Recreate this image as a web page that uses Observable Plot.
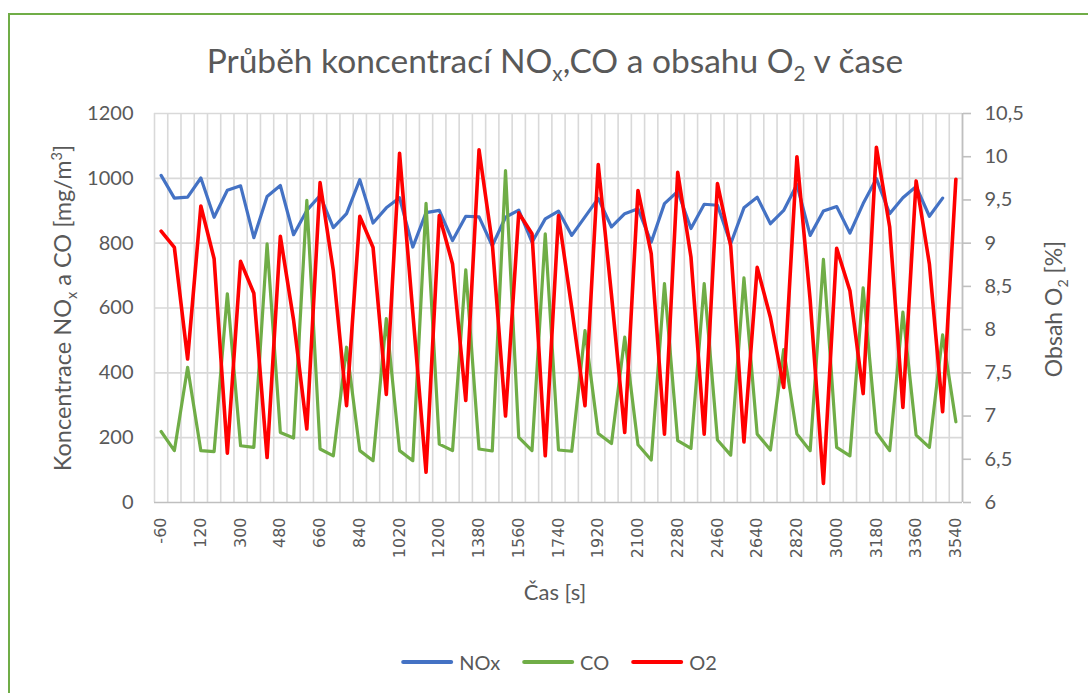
<!DOCTYPE html>
<html>
<head>
<meta charset="utf-8">
<script src="https://cdn.jsdelivr.net/npm/d3@7"></script>
<script src="https://cdn.jsdelivr.net/npm/@observablehq/plot@0.6"></script>
<style>
  html, body { margin: 0; padding: 0; background: #fff; }
  body { width: 1088px; height: 693px; position: relative; overflow: hidden; font-family: Lato, "Open Sans", sans-serif; color: #595959; }
  .frame { position: absolute; left: 8px; top: 13px; width: 1200px; height: 800px; border: 2px solid #70AD47; box-sizing: border-box; }
  #chart { position: absolute; left: 0; top: 0; }
  .title { position: absolute; left: 555px; top: 60px; transform: translate(-50%, -50%); font-size: 33.5px; white-space: nowrap; }
  .ytitle { position: absolute; left: 62px; top: 308px; transform: translate(-50%, -50%) rotate(-90deg); font-size: 23.5px; white-space: nowrap; }
  .y2title { position: absolute; left: 1053px; top: 309px; transform: translate(-50%, -50%) rotate(-90deg); font-size: 23px; white-space: nowrap; }
  .xtitle { position: absolute; left: 555px; top: 591px; transform: translate(-50%, -50%); font-size: 22px; white-space: nowrap; }
  sub, sup { font-size: 0.62em; line-height: 0; }
  .legend { position: absolute; left: 559px; top: 662px; transform: translate(-50%, -50%); display: flex; align-items: center; gap: 22px; font-size: 20px; white-space: nowrap; }
  .legend .item { display: flex; align-items: center; gap: 6px; }
  .legend .sw { width: 52px; height: 4px; border-radius: 2px; }
</style>
</head>
<body>
<div class="frame"></div>
<div id="chart"></div>
<div class="title">Průběh koncentrací NO<sub>x</sub>,CO a obsahu O<sub>2</sub> v čase</div>
<div class="ytitle">Koncentrace NO<sub>x</sub> a CO [mg/m<sup>3</sup>]</div>
<div class="y2title">Obsah O<sub>2</sub> [%]</div>
<div class="xtitle">Čas [s]</div>
<div class="legend">
  <div class="item"><div class="sw" style="background:#4472C4"></div>NOx</div>
  <div class="item"><div class="sw" style="background:#70AD47"></div>CO</div>
  <div class="item"><div class="sw" style="background:#FF0000"></div>O2</div>
</div>
<script>
// Categories: time [s]
const times = [-60,0,60,120,180,240,300,360,420,480,540,600,660,720,780,840,900,960,1020,1080,
  1140,1200,1260,1320,1380,1440,1500,1560,1620,1680,1740,1800,1860,1920,1980,2040,2100,2160,2220,2280,
  2340,2400,2460,2520,2580,2640,2700,2760,2820,2880,2940,3000,3060,3120,3180,3240,3300,3360,3420,3480,3540];

// NOx [mg/m3] (no value at 3540)
const nox = [1009,939,942,1001,880,963,977,817,944,978,826,901,947,848,891,996,862,909,940,788,
  894,901,808,883,881,792,880,902,803,875,899,824,881,938,850,891,906,803,922,960,
  845,920,917,798,909,942,860,901,981,824,899,913,831,922,999,891,940,975,883,939];

// CO [mg/m3]
const co = [219,160,417,160,157,644,175,170,798,216,199,932,165,144,479,160,129,567,160,129,
  923,180,160,718,165,159,1024,201,160,829,162,158,530,213,182,510,178,131,675,191,
  167,675,193,146,693,211,162,472,211,160,750,170,144,662,216,160,587,208,170,517,249];

// O2 [%]
const o2 = [9.14,8.95,7.66,9.43,8.82,6.57,8.79,8.42,6.52,9.08,8.11,6.85,9.70,8.68,7.12,9.31,8.95,7.25,10.04,8.2,
  6.35,9.32,8.76,7.18,10.08,9.0,7.0,9.35,9.11,6.54,9.32,8.25,7.12,9.91,8.4,6.81,9.61,8.88,6.79,9.82,
  8.84,6.79,9.69,8.97,6.70,8.72,8.14,7.33,10.00,8.34,6.22,8.94,8.45,7.26,10.11,9.19,7.10,9.72,8.76,7.05,9.74];

// Axis ticks
const leftTicks = [0,200,400,600,800,1000,1200];
const rightTicks = [6,6.5,7,7.5,8,8.5,9,9.5,10,10.5];
const xTickLabels = [-60,120,300,480,660,840,1020,1200,1380,1560,1740,1920,2100,2280,2460,2640,2820,3000,3180,3360,3540];

const leftDomain = [0, 1200];
const rightDomain = [6, 10.5];
const toLeft = v => (v - rightDomain[0]) / (rightDomain[1] - rightDomain[0]) * (leftDomain[1] - leftDomain[0]) + leftDomain[0];
const fromLeft = v => (v - leftDomain[0]) / (leftDomain[1] - leftDomain[0]) * (rightDomain[1] - rightDomain[0]) + rightDomain[0];

const step = times[1] - times[0];
const xDomain = [times[0] - step / 2, times[times.length - 1] + step / 2];
const bounds = times.map(t => t - step / 2).concat([xDomain[1]]);

const noxData = nox.map((v, i) => ({t: times[i], v}));
const coData = co.map((v, i) => ({t: times[i], v}));
const o2Data = o2.map((v, i) => ({t: times[i], v: toLeft(v)}));

const fmtComma = v => String(+v.toFixed(2)).replace(".", ",");

const chart = Plot.plot({
  width: 1088,
  height: 693,
  marginTop: 113,
  marginBottom: 191,
  marginLeft: 154,
  marginRight: 126,
  x: {type: "linear", domain: xDomain},
  y: {domain: leftDomain},
  style: {fontFamily: "Lato, 'Open Sans', sans-serif", color: "#595959", background: "transparent"},
  marks: [
    Plot.gridX(bounds, {stroke: "#d9d9d9", strokeOpacity: 1, strokeWidth: 1.6}),
    Plot.gridY(leftTicks.slice(1), {stroke: "#d9d9d9", strokeOpacity: 1, strokeWidth: 1.6}),
    Plot.ruleY([leftDomain[0]], {stroke: "#bfbfbf", strokeWidth: 1.6}),
    Plot.ruleX([xDomain[1]], {stroke: "#bfbfbf", strokeWidth: 1.6}),
    Plot.axisY(leftTicks, {anchor: "left", tickSize: 0, tickPadding: 21, fontSize: 20, label: null, tickFormat: d => String(d)}),
    Plot.axisY(rightTicks.map(toLeft), {anchor: "right", tickSize: 8, tickPadding: 14, stroke: "#bfbfbf", strokeWidth: 1.6, fontSize: 20, label: null, tickFormat: d => fmtComma(fromLeft(d))}),
    Plot.axisX(xTickLabels, {anchor: "bottom", tickSize: 0, tickPadding: 15, tickRotate: -90, fontSize: 16, fontFamily: "DejaVu Sans", label: null, tickFormat: d => String(d)}),
    Plot.line(noxData, {x: "t", y: "v", stroke: "#4472C4", strokeWidth: 3.2}),
    Plot.line(coData, {x: "t", y: "v", stroke: "#70AD47", strokeWidth: 3.2}),
    Plot.line(o2Data, {x: "t", y: "v", stroke: "#FF0000", strokeWidth: 3.6})
  ]
});
document.getElementById("chart").appendChild(chart);
</script>
</body>
</html>
